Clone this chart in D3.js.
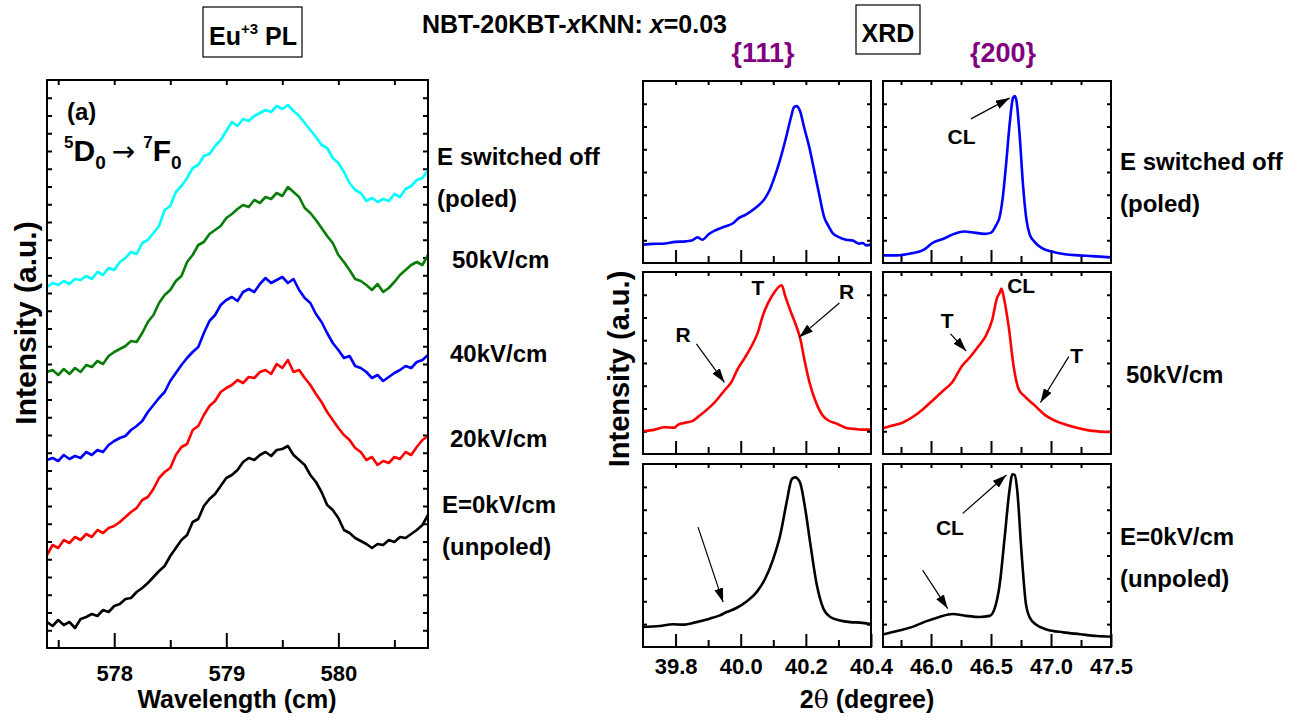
<!DOCTYPE html>
<html><head><meta charset="utf-8">
<script src="https://cdn.jsdelivr.net/npm/d3@7"></script>
<style>
body{margin:0;background:#fff;}
text{font-family:"Liberation Sans",Arial,sans-serif;font-weight:bold;fill:#000;}
</style></head><body>
<svg id="c" width="1308" height="720"></svg>
<script>
// ---------------- DATA ----------------
// (a) Eu3+ PL spectra, wavelength grid and intensities (a.u., offset stacked)
const wavelength = [577.4,577.45,577.5,577.55,577.6,577.65,577.7,577.75,577.8,577.85,577.9,577.95,
578,578.05,578.1,578.15,578.2,578.25,578.3,578.35,578.4,578.45,578.5,578.55,578.6,578.65,578.7,578.75,578.8,578.85,578.9,578.95,
579,579.05,579.1,579.15,579.2,579.25,579.3,579.35,579.4,579.45,579.5,579.55,579.6,579.65,579.7,579.75,579.8,579.85,579.9,579.95,
580,580.05,580.1,580.15,580.2,580.25,580.3,580.35,580.4,580.45,580.5,580.55,580.6,580.65,580.7,580.75,580.8];
const plSwitchedOff = [361,365,363,367,364,369,368,372,369,376,373,380,378,386,390,396,394,405,408,415,422,438,442,456,462,470,480,483,492,494,502,508,517,526,522,529,527,532,535,538,536,542,539,543,537,532,525,518,511,503,500,490,485,476,465,458,455,447,450,446,449,447,454,451,459,462,468,470,478];
const pl50 = [276,278,273,279,274,280,276,283,281,287,284,292,296,299,302,307,306,315,326,333,345,353,358,367,372,386,393,403,406,414,418,422,430,434,439,443,441,448,445,451,449,455,452,461,456,451,440,435,428,420,412,405,393,386,378,369,367,363,358,364,356,360,366,373,378,383,386,383,393];
const pl40 = [188,190,187,193,189,192,190,196,193,198,196,203,207,210,212,218,222,227,236,243,250,256,267,275,283,290,296,301,315,327,333,343,348,351,347,356,359,356,364,370,365,368,371,365,369,358,350,345,334,326,315,305,298,290,292,282,280,276,270,273,267,271,275,278,282,280,286,288,293];
const pl20 = [93,103,100,108,105,111,108,114,111,118,115,120,122,126,131,136,140,148,151,159,170,176,180,193,201,204,218,222,233,242,247,256,260,263,268,265,271,270,276,278,274,284,280,288,276,278,270,263,254,246,236,228,220,213,208,200,196,188,191,183,187,185,191,189,196,193,201,208,212];
const pl0 = [26,22,28,23,26,20,29,31,34,32,38,36,42,44,49,50,56,60,65,71,77,82,92,100,108,113,126,129,142,149,154,162,170,173,178,186,190,188,193,196,192,198,199,202,193,188,183,173,166,156,143,138,130,118,115,110,107,104,100,104,103,108,106,111,110,114,118,123,133];
const plLabels = ["E switched off","(poled)","50kV/cm","40kV/cm","20kV/cm","E=0kV/cm","(unpoled)"];
const plMajorTicks = [578,579,580];
const plMinorTicks = [577.5,578.5,579.5,580.5];

// (b) XRD profiles: [2theta, normalized intensity]
const xrd111Poled = [[39.703,10.1],[39.729,10.5],[39.759,10.6],[39.800,11.6],[39.831,11.9],[39.852,12.5],[39.867,14.1],[39.882,12.8],[39.903,16.0],[39.923,18.0],[39.954,20.2],[39.975,21.7],[39.995,24.8],[40.016,26.6],[40.046,30.3],[40.072,34.9],[40.087,39.4],[40.103,46.8],[40.118,55.0],[40.139,68.8],[40.154,79.8],[40.164,85.7],[40.172,86.2],[40.182,83.5],[40.195,74.3],[40.211,63.3],[40.226,50.5],[40.241,37.6],[40.257,24.8],[40.267,21.1],[40.282,16.5],[40.303,14.1],[40.323,12.8],[40.344,12.3],[40.364,10.6],[40.375,11.0],[40.385,9.7],[40.400,10.1]];
const xrd111Field50 = [[39.700,12.5],[39.736,13.4],[39.766,14.7],[39.797,14.5],[39.807,16.0],[39.828,17.1],[39.853,18.2],[39.874,21.1],[39.899,24.8],[39.920,28.4],[39.950,34.9],[39.971,39.4],[39.991,46.8],[40.012,52.7],[40.037,60.6],[40.053,67.0],[40.068,76.1],[40.083,82.6],[40.104,89.0],[40.116,91.7],[40.126,92.7],[40.136,87.2],[40.154,78.0],[40.170,70.6],[40.183,63.3],[40.195,52.3],[40.211,39.4],[40.231,28.4],[40.252,21.1],[40.267,18.7],[40.297,16.5],[40.328,14.1],[40.349,13.8],[40.369,13.4],[40.400,13.4]];
const xrd111Unpoled = [[39.700,10.9],[39.751,11.5],[39.792,12.4],[39.823,12.2],[39.864,13.6],[39.905,15.5],[39.936,17.3],[39.957,19.1],[39.987,21.3],[40.018,24.9],[40.049,30.0],[40.075,37.3],[40.100,48.2],[40.121,60.9],[40.141,79.1],[40.157,91.8],[40.167,92.7],[40.182,90.0],[40.198,75.5],[40.213,57.3],[40.234,33.6],[40.254,20.9],[40.275,16.4],[40.305,14.5],[40.336,13.6],[40.367,13.3],[40.400,12.4]];
const xrd200Poled = [[45.606,4.2],[45.718,4.2],[45.829,5.2],[45.941,7.3],[46.011,11.0],[46.109,13.5],[46.193,16.0],[46.277,17.3],[46.361,16.7],[46.445,16.0],[46.501,16.7],[46.543,20.8],[46.571,25.0],[46.599,36.5],[46.627,55.2],[46.655,76.0],[46.683,90.6],[46.697,91.7],[46.711,89.6],[46.739,69.8],[46.767,42.7],[46.795,24.0],[46.823,15.6],[46.865,11.5],[46.921,8.3],[47.005,6.3],[47.117,4.8],[47.229,4.2],[47.341,3.8],[47.500,3.1]];
const xrd200Field50 = [[45.600,14.1],[45.678,15.6],[45.761,17.2],[45.844,20.2],[45.926,24.2],[46.011,29.3],[46.094,34.3],[46.177,39.4],[46.260,48.5],[46.316,52.5],[46.400,59.6],[46.454,64.6],[46.510,73.7],[46.551,85.9],[46.571,88.3],[46.587,90.9],[46.607,85.9],[46.648,69.7],[46.690,47.5],[46.732,35.4],[46.787,31.3],[46.871,26.3],[46.954,21.2],[47.037,18.2],[47.120,16.2],[47.231,14.1],[47.342,12.7],[47.500,12.1]];
const xrd200Unpoled = [[45.608,7],[45.734,9],[45.846,11],[45.958,14],[46.070,16.4],[46.181,18],[46.293,17],[46.405,16.4],[46.488,17],[46.530,21],[46.572,34],[46.614,60],[46.651,84],[46.679,94.4],[46.698,94],[46.718,86],[46.754,52],[46.790,24],[46.824,16],[46.880,12],[46.963,9.6],[47.103,8],[47.243,7],[47.382,6],[47.500,5.6]];
const xrdRowLabels = [["E switched off","(poled)"],["50kV/cm"],["E=0kV/cm","(unpoled)"]];
const xrd111Labels = [39.8,40.0,40.2,40.4];
const xrd111Major = [39.8,40.0,40.2];
const xrd111Minor = [39.9,40.1,40.3];
const xrd200Labels = [46.0,46.5,47.0,47.5];
const xrd200Major = [46.0,46.5,47.0];
const xrd200Minor = [45.75,46.25,46.75,47.25];
// annotations: arrows [x1,y1,x2,y2] and texts [text,x,y,anchor] in data units per panel "row-col"
const xrdArrows = {"0-1":[[46.333,79.2,46.655,90.6]],
  "1-0":[[40.303,83,40.180,64.2],[39.864,60.5,39.950,39.4]],
  "1-1":[[46.163,66,46.293,56.6],[47.148,53.5,46.912,28.3]],
  "2-0":[[39.869,65.5,39.946,24.5]],
  "2-1":[[46.265,73,46.628,94],[45.93,42,46.139,21]]};
const xrdTexts = {"0-1":[["CL",46.255,65.6,"middle"]],
  "1-0":[["T",40.053,87.5,"middle"],["R",40.325,85.3,"middle"],["R",39.823,61.5,"middle"]],
  "1-1":[["CL",46.635,88.3,"start"],["T",46.135,69.1,"middle"],["T",47.214,49.9,"middle"]],
  "2-1":[["CL",46.041,61.4,"start"]]};

// ---------------- DRAW ----------------
const svg = d3.select("#c");
const defs = svg.append("defs");
defs.append("marker").attr("id","ah").attr("viewBox","0 0 10 10").attr("refX",10).attr("refY",5)
  .attr("markerWidth",14).attr("markerHeight",9).attr("markerUnits","userSpaceOnUse")
  .attr("preserveAspectRatio","none").attr("orient","auto")
  .append("path").attr("d","M0,0L10,5L0,10Z").attr("fill","#000");

function styleAxis(g, fs){
  g.select(".domain").remove();
  g.selectAll(".tick line").attr("stroke","#000").attr("stroke-width",2);
  g.attr("font-size",fs).attr("font-family",null);
}

// ---- Panel (a)
const L = {x0:47,x1:428,y0:80,y1:648};
const xL = d3.scaleLinear().domain([577.4,580.8]).range([L.x0,L.x1]);
const yL = d3.scaleLinear().domain([0,568]).range([L.y1,L.y0]);
const yTicksL = d3.range(17.75,568,17.75);

svg.append("g").attr("transform",`translate(0,${L.y1})`)
  .call(d3.axisBottom(xL).tickValues(plMajorTicks).tickSizeInner(-15).tickSizeOuter(0).tickPadding(17).tickFormat(d3.format("d")))
  .call(g=>styleAxis(g,22));
svg.append("g").attr("transform",`translate(0,${L.y1})`)
  .call(d3.axisBottom(xL).tickValues(plMinorTicks).tickSizeInner(-8).tickSizeOuter(0).tickFormat(""))
  .call(g=>styleAxis(g,22));
svg.append("g").attr("transform",`translate(0,${L.y0})`)
  .call(d3.axisTop(xL).tickValues(plMajorTicks.concat(plMinorTicks)).tickSizeInner(-5).tickSizeOuter(0).tickFormat(""))
  .call(g=>styleAxis(g,22));
svg.append("g").attr("transform",`translate(${L.x0},0)`)
  .call(d3.axisLeft(yL).tickValues(yTicksL).tickSizeInner(-5).tickSizeOuter(0).tickFormat(""))
  .call(g=>styleAxis(g,22));
svg.append("g").attr("transform",`translate(${L.x1},0)`)
  .call(d3.axisRight(yL).tickValues(yTicksL).tickSizeInner(-5).tickSizeOuter(0).tickFormat(""))
  .call(g=>styleAxis(g,22));

const plSeries = [
  {v:pl0,c:"#000000"},{v:pl20,c:"#ff0000"},{v:pl40,c:"#0000ff"},{v:pl50,c:"#087d08"},{v:plSwitchedOff,c:"#00ffff"}];
const plLine = d3.line().x((d,i)=>xL(wavelength[i])).y(d=>yL(d));
svg.append("g").selectAll("path").data(plSeries).join("path")
  .attr("d",d=>plLine(d.v)).attr("fill","none").attr("stroke",d=>d.c)
  .attr("stroke-width",2.6).attr("stroke-linejoin","round");

svg.append("rect").attr("x",L.x0).attr("y",L.y0).attr("width",L.x1-L.x0).attr("height",L.y1-L.y0)
  .attr("fill","none").attr("stroke","#000").attr("stroke-width",2);

svg.append("text").attr("x",67).attr("y",120).attr("font-size",24).text("(a)");
const tr = svg.append("text").attr("x",64).attr("y",161).attr("font-size",30);
tr.append("tspan").attr("font-size",17).attr("dy",-13).text("5");
tr.append("tspan").attr("dy",13).text("D");
tr.append("tspan").attr("font-size",19).attr("dy",8).text("0");
tr.append("tspan").attr("dy",-8).attr("dx",6).style("font-weight","normal").style("font-family","DejaVu Sans").attr("font-size",28).text("\u2192");
tr.append("tspan").attr("font-size",17).attr("dy",-13).attr("dx",8).text("7");
tr.append("tspan").attr("dy",13).text("F");
tr.append("tspan").attr("font-size",19).attr("dy",8).text("0");

const plLabelPos = [[437,165],[437,207],[452,268],[450,362],[450,447],[442,513],[442,555]];
svg.append("g").selectAll("text").data(plLabels).join("text")
  .attr("x",(d,i)=>plLabelPos[i][0]).attr("y",(d,i)=>plLabelPos[i][1]).attr("font-size",24).text(d=>d);

svg.append("text").attr("x",237).attr("y",708).attr("text-anchor","middle").attr("font-size",25).text("Wavelength (cm)");
svg.append("text").attr("transform","translate(36,323) rotate(-90)").attr("text-anchor","middle").attr("font-size",30).text("Intensity (a.u.)");

// Eu+3 PL box
svg.append("rect").attr("x",203).attr("y",7).attr("width",99).attr("height",50).attr("fill","none").attr("stroke","#000").attr("stroke-width",1.2);
const eu = svg.append("text").attr("x",209).attr("y",45).attr("font-size",25);
eu.append("tspan").text("Eu");
eu.append("tspan").attr("font-size",15).attr("dy",-11).text("+3");
eu.append("tspan").attr("dy",11).text(" PL");

// title
const ti = svg.append("text").attr("x",422).attr("y",33).attr("font-size",25);
ti.append("tspan").text("NBT-20KBT-");
ti.append("tspan").style("font-style","italic").text("x");
ti.append("tspan").text("KNN: ");
ti.append("tspan").style("font-style","italic").text("x");
ti.append("tspan").text("=0.03");

// ---- Panel (b)
const cols = [
  {x0:643,x1:871,dom:[39.7,40.4],labels:xrd111Labels,major:xrd111Major,minor:xrd111Minor,title:"{111}"},
  {x0:883,x1:1111,dom:[45.6,47.5],labels:xrd200Labels,major:xrd200Major,minor:xrd200Minor,title:"{200}"}];
const rows = [{y0:81,y1:263,color:"#0000ff"},{y0:272,y1:454,color:"#ff0000"},{y0:464,y1:647,color:"#000000"}];
const xrdData = [[xrd111Poled,xrd200Poled],[xrd111Field50,xrd200Field50],[xrd111Unpoled,xrd200Unpoled]];
const yTicksR = d3.range(12.5,100,12.5);

rows.forEach((r,ri)=>{
  cols.forEach((c,ci)=>{
    const x = d3.scaleLinear().domain(c.dom).range([c.x0,c.x1]);
    const y = d3.scaleLinear().domain([0,100]).range([r.y1,r.y0]);
    const g = svg.append("g");
    if(ri===2){
      g.append("g").attr("transform",`translate(0,${r.y1})`)
        .call(d3.axisBottom(x).tickValues(c.labels).tickSizeInner(-13).tickSizeOuter(0).tickPadding(11).tickFormat(d3.format(".1f")))
        .call(a=>styleAxis(a,22));
    } else {
      g.append("g").attr("transform",`translate(0,${r.y1})`)
        .call(d3.axisBottom(x).tickValues(c.major).tickSizeInner(-13).tickSizeOuter(0).tickFormat(""))
        .call(a=>styleAxis(a,22));
    }
    g.append("g").attr("transform",`translate(0,${r.y1})`)
      .call(d3.axisBottom(x).tickValues(c.minor).tickSizeInner(-7).tickSizeOuter(0).tickFormat(""))
      .call(a=>styleAxis(a,22));
    g.append("g").attr("transform",`translate(0,${r.y0})`)
      .call(d3.axisTop(x).tickValues(c.major.concat(c.minor)).tickSizeInner(-4).tickSizeOuter(0).tickFormat(""))
      .call(a=>styleAxis(a,22));
    g.append("g").attr("transform",`translate(${c.x0},0)`)
      .call(d3.axisLeft(y).tickValues(yTicksR).tickSizeInner(-4).tickSizeOuter(0).tickFormat(""))
      .call(a=>styleAxis(a,22));
    g.append("g").attr("transform",`translate(${c.x1},0)`)
      .call(d3.axisRight(y).tickValues(yTicksR).tickSizeInner(-4).tickSizeOuter(0).tickFormat(""))
      .call(a=>styleAxis(a,22));
    const ln = d3.line().x(d=>x(d[0])).y(d=>y(d[1])).curve(d3.curveMonotoneX);
    g.append("path").attr("d",ln(xrdData[ri][ci])).attr("fill","none").attr("stroke",r.color)
      .attr("stroke-width",2.6).attr("stroke-linejoin","round");
    g.append("rect").attr("x",c.x0).attr("y",r.y0).attr("width",c.x1-c.x0).attr("height",r.y1-r.y0)
      .attr("fill","none").attr("stroke","#000").attr("stroke-width",2);
    const key = ri+"-"+ci;
    (xrdArrows[key]||[]).forEach(a=>{
      g.append("line").attr("x1",x(a[0])).attr("y1",y(a[1])).attr("x2",x(a[2])).attr("y2",y(a[3]))
        .attr("stroke","#000").attr("stroke-width",1.2).attr("marker-end","url(#ah)");
    });
    (xrdTexts[key]||[]).forEach(t=>{
      g.append("text").attr("x",x(t[1])).attr("y",y(t[2])).attr("text-anchor",t[3]).attr("font-size",21).text(t[0]);
    });
  });
  xrdRowLabels[ri].forEach((t,k)=>{
    const pos = [[[1120,170],[1120,212]],[[1126,383]],[[1120,545],[1120,587]]][ri][k];
    svg.append("text").attr("x",pos[0]).attr("y",pos[1]).attr("font-size",24).text(t);
  });
});

cols.forEach(c=>{
  svg.append("text").attr("x",(c.x0+c.x1)/2+6).attr("y",62).attr("text-anchor","middle")
    .attr("font-size",27).style("fill","#800080").text(c.title);
});
svg.append("text").attr("x",(cols[0].x0+cols[1].x1)/2-10).attr("y",708).attr("text-anchor","middle").attr("font-size",25)
  .call(t=>{t.append("tspan").text("2"); t.append("tspan").style("font-family","DejaVu Serif").style("font-weight","normal").text("\u03b8"); t.append("tspan").text(" (degree)");});
svg.append("text").attr("transform","translate(629,369) rotate(-90)").attr("text-anchor","middle").attr("font-size",29).text("Intensity (a.u.)");
svg.append("rect").attr("x",856).attr("y",5).attr("width",64).attr("height",49).attr("fill","none").attr("stroke","#000").attr("stroke-width",1.2);
svg.append("text").attr("x",888).attr("y",42).attr("text-anchor","middle").attr("font-size",25).text("XRD");
</script>
</body></html>
